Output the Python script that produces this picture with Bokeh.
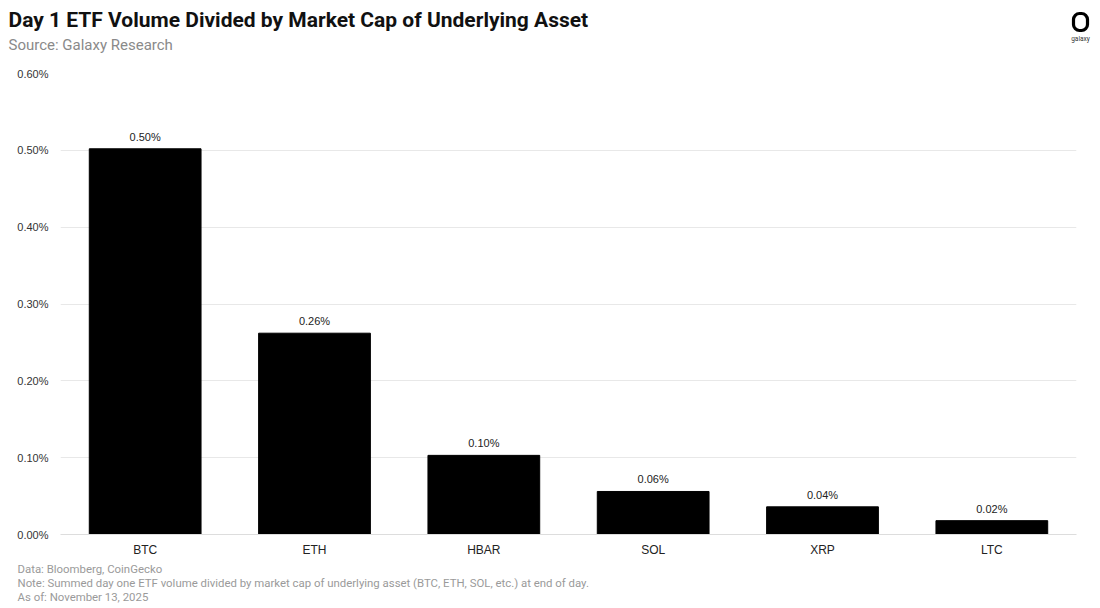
from bokeh.plotting import figure
from bokeh.layouts import column
from bokeh.models import (ColumnDataSource, LabelSet, FixedTicker, Title, CustomJSTickFormatter,
                          Label, Range1d, BoxAnnotation)
from bokeh.core.properties import value
from bokeh.embed import file_html
from bokeh.resources import INLINE

categories = ["BTC", "ETH", "HBAR", "SOL", "XRP", "LTC"]
values = [0.502, 0.262, 0.103, 0.056, 0.036, 0.018]
y_ticks = [0.0, 0.1, 0.2, 0.3, 0.4, 0.5, 0.6]

title_text = "Day 1 ETF Volume Divided by Market Cap of Underlying Asset"
subtitle_text = "Source: Galaxy Research"
logo_text = "galaxy"
notes = [
    "Data: Bloomberg, CoinGecko",
    "Note: Summed day one ETF volume divided by market cap of underlying asset (BTC, ETH, SOL, etc.) at end of day.",
    "As of: November 13, 2025",
]

W = 1092
HEAD_H = 66

# ---- header (title, subtitle, logo) ----
head = figure(width=W, height=HEAD_H, x_range=Range1d(0, W), y_range=Range1d(0, HEAD_H),
              output_backend="svg", toolbar_location=None, title=None,
              x_axis_location=None, y_axis_location=None,
              min_border_left=0, min_border_right=0, min_border_top=0, min_border_bottom=0)
head.frame_width = W
head.frame_height = HEAD_H
head.frame_align = False
head.outline_line_color = None
head.xgrid.visible = False
head.ygrid.visible = False
head.add_layout(Label(x=8, y=47, text=title_text, text_font="Roboto", text_font_size="21px",
                      text_font_style="bold", text_color="#111111", text_baseline="middle"))
head.add_layout(Label(x=8, y=22, text=subtitle_text, text_font="Roboto", text_font_size="15px",
                      text_color="#8a8a8a", text_baseline="middle"))
head.add_layout(BoxAnnotation(left=1073, right=1087, bottom=36, top=53,
                              fill_color=None, fill_alpha=0, line_color="#000000",
                              line_alpha=1.0, line_width=3.2, border_radius=6))
head.add_layout(Label(x=1080, y=28, text=logo_text, text_font="Roboto", text_font_size="6.5px",
                      text_color="#333333", text_align="center", text_baseline="middle"))

# ---- main chart ----
src = ColumnDataSource(dict(
    cat=categories,
    val=values,
    lbl=["{:.2f}%".format(v) for v in values],
))

p = figure(x_range=categories, y_range=(0, 0.6), width=W, height=538, title=None,
           output_backend="svg", toolbar_location=None,
           min_border_left=60, min_border_right=16, min_border_top=7, min_border_bottom=10)
p.frame_width = 1016
p.frame_height = 461
p.frame_align = False

p.vbar(x="cat", top="val", width=0.66, source=src, color="black")
p.add_layout(LabelSet(x="cat", y="val", text="lbl", source=src, text_align="center",
                      y_offset=6, text_font_size="11px", text_color="#222222",
                      text_font=value("Liberation Sans")))

p.outline_line_color = None
p.xgrid.grid_line_color = None
p.ygrid.grid_line_color = "#e8e8e8"
p.ygrid.grid_line_width = 1
p.yaxis.ticker = FixedTicker(ticks=y_ticks)
p.yaxis.formatter = CustomJSTickFormatter(code="return tick.toFixed(2) + '%';")
p.yaxis.axis_line_color = None
p.yaxis.major_tick_line_color = None
p.yaxis.minor_tick_line_color = None
p.yaxis.major_label_text_font_size = "11px"
p.yaxis.major_label_text_color = "#333333"
p.yaxis.major_label_text_font = "Liberation Sans"
p.yaxis.major_label_standoff = 6
p.xaxis.axis_line_color = "#dddddd"
p.xaxis.major_tick_line_color = None
p.xaxis.minor_tick_line_color = None
p.xaxis.major_label_text_font_size = "12px"
p.xaxis.major_label_text_color = "#222222"
p.xaxis.major_label_text_font = "Liberation Sans"
p.xaxis.major_label_standoff = 2

p.add_layout(Title(text="\n".join(notes), align="left", offset=-43, standoff=0,
                   text_font="Roboto", text_font_size="11.4px", text_font_style="normal",
                   text_color="#9a9a9a"), "below")

layout = column(head, p, spacing=0)
open("out.html", "w").write(file_html(layout, INLINE))
